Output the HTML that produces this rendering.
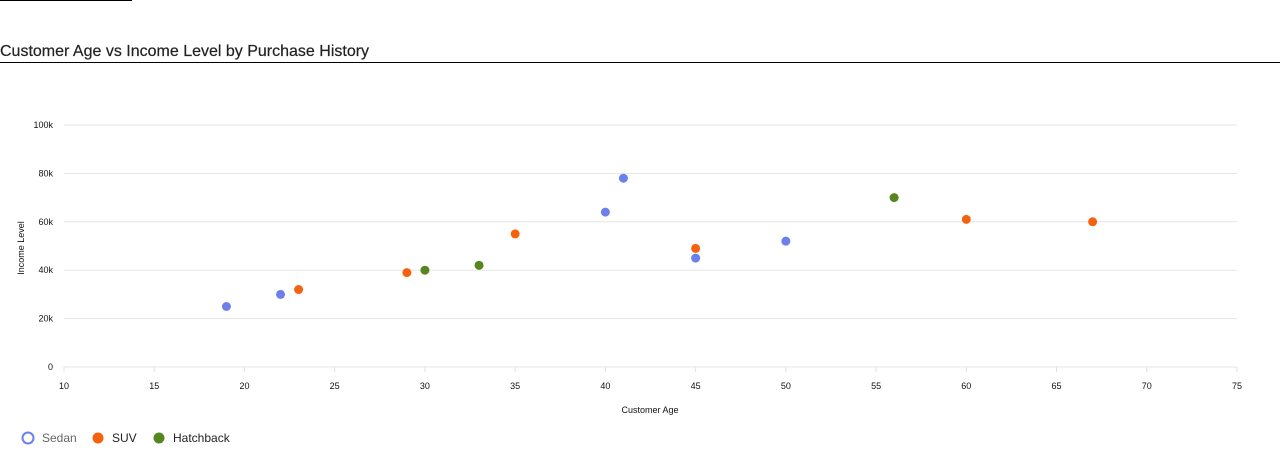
<!DOCTYPE html>
<html><head><meta charset="utf-8"><style>
body{margin:0;width:1280px;height:454px;background:#fff;font-family:"Liberation Sans",sans-serif;overflow:hidden;position:relative}
#topline{position:absolute;left:0;top:0;width:132px;height:1px;background:#000}
#title{position:absolute;left:0;top:43px;font-size:16px;color:#222;margin:0;font-weight:normal;white-space:nowrap;-webkit-text-stroke:0.2px #222}
#rule{position:absolute;left:0;top:62px;width:1280px;height:1px;background:#000}
svg{position:absolute;left:0;top:0}
text{font-family:"Liberation Sans",sans-serif}
</style></head><body>
<div id="topline"></div>
<h2 id="title">Customer Age vs Income Level by Purchase History</h2>
<div id="rule"></div>
<svg id="chart" width="1280" height="454"></svg>
<script>
const xTicks=[10,15,20,25,30,35,40,45,50,55,60,65,70,75];
const yTicks=[0,20,40,60,80,100];
const seriesNames=["Sedan","SUV","Hatchback"];
const seriesColors=["#6b80ea","#f5620f","#56861f"];
const sedanAge=[19,22,40,41,45,50];
const sedanIncome=[25,30,64,78,45,52];
const suvAge=[23,29,35,45,60,67];
const suvIncome=[32,39,55,49,61,60];
const hatchAge=[30,33,56];
const hatchIncome=[40,42,70];

const NS="http://www.w3.org/2000/svg";
const svg=document.getElementById('chart');
const X0=64,X1=1237,Y0=367,Y1=125;
const xs=v=>X0+(v-10)/(75-10)*(X1-X0);
const ys=v=>Y0-v/100*(Y0-Y1);
function mk(t,a,p){const e=document.createElementNS(NS,t);for(const k in a)e.setAttribute(k,a[k]);(p||svg).appendChild(e);return e;}
yTicks.forEach(t=>{
  const l=mk('line',{x1:X0,x2:X1,y1:ys(t),y2:ys(t),stroke:'#e6e6e6','stroke-width':1});
  
  
  const tx=mk('text',{x:X0-11,y:ys(t)+3,'text-anchor':'end','font-size':9,fill:'#111'});
  tx.textContent=t===0?'0':t+'k';
  
  
});
xTicks.forEach(t=>{
  const l=mk('line',{x1:xs(t),x2:xs(t),y1:Y0,y2:Y0+5,stroke:'#e0e0e0'});
  
  
  const tx=mk('text',{x:xs(t),y:Y0+22,'text-anchor':'middle','font-size':9,fill:'#111'});
  tx.textContent=t;
  
  
});
const xt=mk('text',{x:650,y:413,'text-anchor':'middle','font-size':9,fill:'#111'});
xt.textContent='Customer Age';


const yt=mk('text',{x:24,y:248,'text-anchor':'middle','font-size':9,fill:'#111',transform:'rotate(-90 24 248)'});
yt.textContent='Income Level';


const data=[[sedanAge,sedanIncome],[suvAge,suvIncome],[hatchAge,hatchIncome]];
data.forEach((d,si)=>{
  d[0].forEach((a,i)=>{
    const c=mk('circle',{cx:xs(a),cy:ys(d[1][i]),r:4.5,fill:seriesColors[si]});
    
    
  });
});
const legX=[28,98,159];
seriesNames.forEach((n,i)=>{
  const c=mk('circle',{cx:legX[i],cy:438,r:5.5,fill:i===0?'#fff':seriesColors[i],stroke:seriesColors[i],'stroke-width':i===0?2:0});
  
  
  const t=mk('text',{x:legX[i]+14,y:442,'font-size':12,fill:i===0?'#666':'#222'});
  t.textContent=n;
  
  
});
</script>
</body></html>
